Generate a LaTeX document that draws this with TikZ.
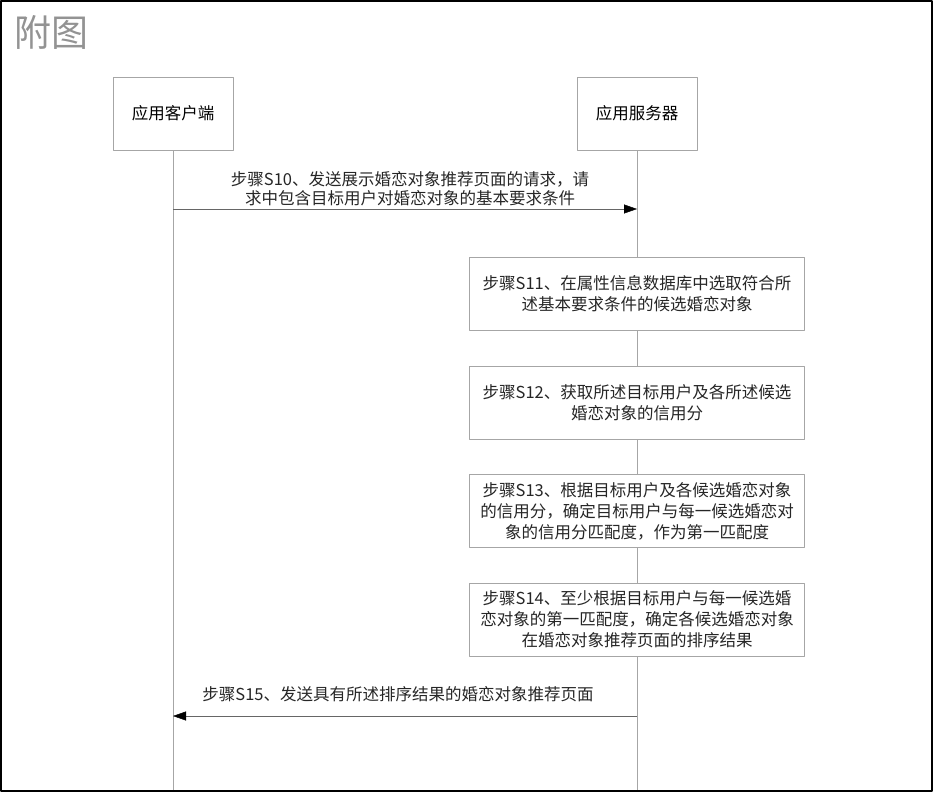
\documentclass[tikz,border=0pt]{standalone}
\usepackage{fontspec}
\setmainfont{Noto Sans CJK SC}
\usetikzlibrary{arrows.meta}
\begin{document}
\begin{tikzpicture}[x=1pt,y=-1pt,line join=round,font=\fontsize{16.5}{21}\selectfont,
    actor/.style={draw=gray!70,fill=white,minimum width=120pt,minimum height=73pt,inner sep=0pt},
    stepbox/.style={draw=gray!70,fill=white,minimum width=335pt,minimum height=73pt,align=center,inner sep=0pt,text=black!85},
    lane/.style={draw=gray!70},
    msg/.style={draw=gray!80!black,-{Triangle[length=13pt,width=9pt,color=black]}}]
    \useasboundingbox (0,0) rectangle (933,792);
    \draw[line width=2pt] (1,1) rectangle (932,791);
    \node[anchor=north west,inner sep=0pt,text=gray!85,font=\fontsize{37}{37}\selectfont] (title) at (14,15) {附图};
    \node[actor] (client) at (173,113.5) {应用客户端};
    \node[actor] (server) at (637,113.5) {应用服务器};
    \node[stepbox] (s11) at (637,293.5) {步骤S11、在属性信息数据库中选取符合所\\述基本要求条件的候选婚恋对象};
    \node[stepbox] (s12) at (637,402.5) {步骤S12、获取所述目标用户及各所述候选\\婚恋对象的信用分};
    \node[stepbox] (s13) at (637,511) {步骤S13、根据目标用户及各候选婚恋对象\\的信用分，确定目标用户与每一候选婚恋对\\象的信用分匹配度，作为第一匹配度};
    \node[stepbox] (s14) at (637,619.5) {步骤S14、至少根据目标用户与每一候选婚\\恋对象的第一匹配度，确定各候选婚恋对象\\在婚恋对象推荐页面的排序结果};
    \coordinate (cend) at (173,790);
    \coordinate (send) at (637,790);
    \draw[lane] (client) -- (cend);
    \draw[lane] (server) -- (s11) (s11) -- (s12) (s12) -- (s13) (s13) -- (s14) (s14) -- (send);
    \coordinate (c10) at (173,209);
    \coordinate (v10) at (637,209);
    \coordinate (c15) at (173,716);
    \coordinate (v15) at (637,716);
    \draw[msg] (c10) -- (v10);
    \draw[msg] (v15) -- (c15);
    \node[anchor=south,align=center,inner sep=1pt,text=black!85,font=\fontsize{16.5}{19}\selectfont] (t10) at (410,207) {步骤S10、发送展示婚恋对象推荐页面的请求，请\\求中包含目标用户对婚恋对象的基本要求条件};
    \node[anchor=south,inner sep=1pt,text=black!85] (t15) at (398,703) {步骤S15、发送具有所述排序结果的婚恋对象推荐页面};
\end{tikzpicture}
\end{document}
